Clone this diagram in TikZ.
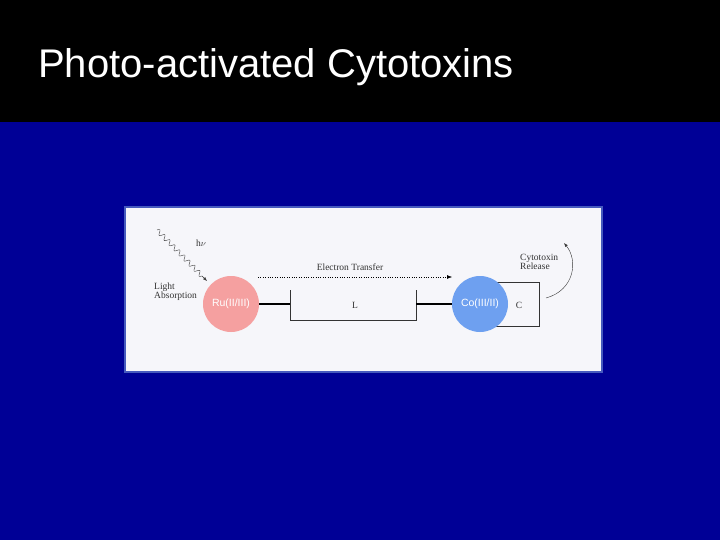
\documentclass[tikz,border=0pt]{standalone}
\usepackage{fontspec}
\setmainfont{Liberation Sans}
\newfontfamily\serifx{Liberation Serif}
\usetikzlibrary{arrows.meta}
\begin{document}
\begin{tikzpicture}[x=1pt,y=-1pt,
  lbl/.style={font=\serifx\fontsize{9.5}{9}\selectfont,text=black!80,inner sep=0},
  circ/.style={circle,minimum size=56pt,inner sep=0,text=white,font=\fontsize{10.5}{10}\selectfont}]
\useasboundingbox (0,0) rectangle (720,540);
\fill[fill={rgb,255:red,0;green,0;blue,150}] (0,0) rectangle (720,540);
\fill[black] (0,0) rectangle (720,122);
\node[anchor=west,text=white,font=\fontsize{40}{40}\selectfont,inner sep=0] (title) at (38,67) {Photo-activated Cytotoxins};
\draw[draw={rgb,255:red,70;green,90;blue,190},line width=2pt,fill={rgb,255:red,246;green,246;blue,250}] (125,207) rectangle (602,372);
% boxes
\draw[black!80,line width=0.6pt] (290,290) -- (290,320) -- (416,320) -- (416,290);
\draw[black!80,line width=0.6pt] (495,282) -- (539,282) -- (539,326) -- (495,326);
\node[circ,fill={rgb,255:red,245;green,160;blue,160}] (ru) at (231,304) {Ru(II/III)};
\node[circ,fill={rgb,255:red,110;green,160;blue,240}] (co) at (480,304) {Co(III/II)};
\coordinate (la) at (290,304); \coordinate (lb) at (416,304);
\draw[black,line width=1.8pt] (ru.east) -- (la);
\draw[black,line width=1.8pt] (lb) -- (co.west);
\node[lbl] (L) at (355,305) {L};
\node[lbl] (C) at (519,305) {C};
\coordinate (et1) at (258,277); \coordinate (et2) at (452,277);
\draw[black,dotted,-{Latex[length=5pt]}] (et1) -- (et2);
\node[lbl] (etl) at (350,267) {Electron Transfer};
\coordinate (w1) at (157,230); \coordinate (w2) at (207,281);
\draw[black!80,smooth] plot[domain=0:0.9,samples=120] ({157+50*\x+1.6*sin(\x*3600)},{230+51*\x-1.6*sin(\x*3600)});
\draw[black!80,-{Latex[length=4pt]}] (202,276) -- (w2);
\node[lbl] (hv) at (201,243) {h$\nu$};
\node[lbl,align=left,anchor=west] (la2) at (154,292) {Light\\Absorption};
\coordinate (c1) at (546,298); \coordinate (c2) at (564,243);
\draw[black!80,-{Latex[length=4pt]}] (c1) .. controls (575,290) and (578,260) .. (c2);
\node[lbl,align=left,anchor=west] (cr) at (520,262) {Cytotoxin\\Release};
\end{tikzpicture}
\end{document}
